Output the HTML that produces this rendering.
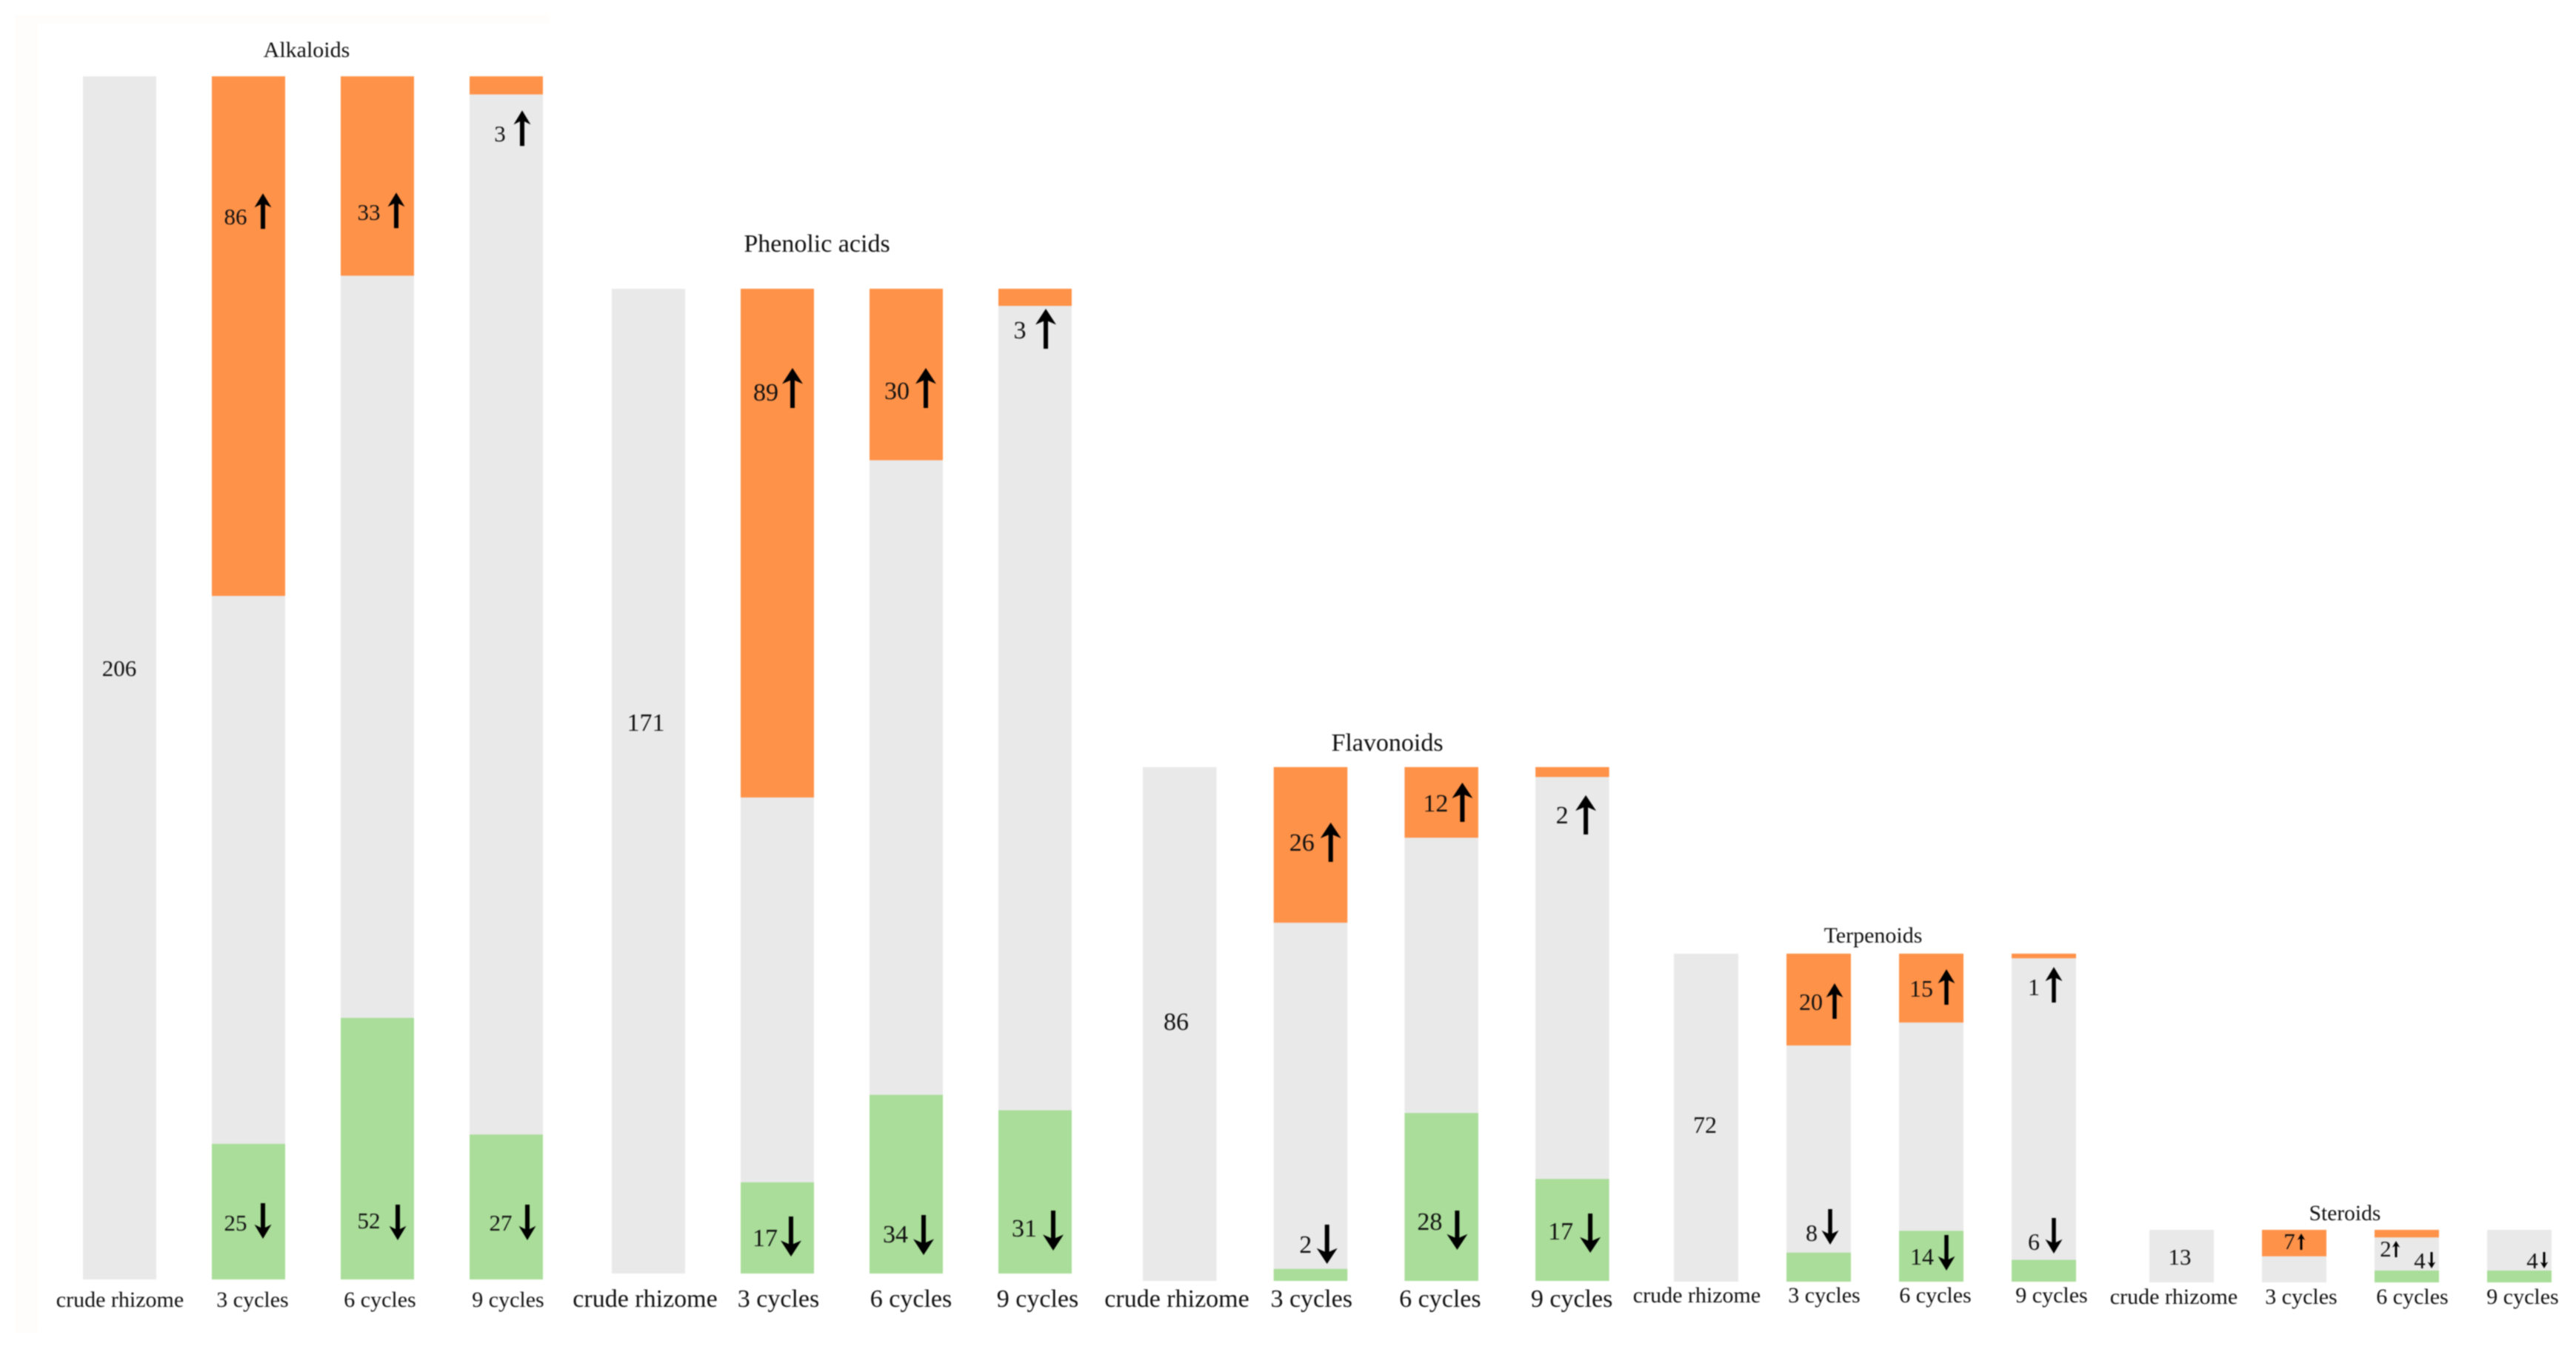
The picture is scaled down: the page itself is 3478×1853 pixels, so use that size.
<!DOCTYPE html>
<html lang="en">
<head>
<meta charset="utf-8">
<title>Metabolite changes across steaming cycles</title>
<style>
html,body{margin:0;padding:0;background:#fff;width:3478px;height:1853px;overflow:hidden}
svg{display:block;filter:blur(0.7px)}
text{font-family:"Liberation Serif",serif;fill:#111;text-anchor:middle}
</style>
</head>
<body>
<svg id="chart" xmlns="http://www.w3.org/2000/svg" width="3478" height="1853" viewBox="0 0 3478 1853">
<rect x="0" y="0" width="3478" height="1853" fill="#ffffff"/>
<path d="M20 20H742V32H51V1800H20Z" fill="#fffdfb"/>
</svg>
<script>
const panelNames = ["Alkaloids", "Phenolic acids", "Flavonoids", "Terpenoids", "Steroids"];
const categories = ["crude rhizome", "3 cycles", "6 cycles", "9 cycles"];
const crudeTotals = [206, 171, 86, 72, 13];
const upAlkaloids = [86, 33, 3];
const upPhenolic = [89, 30, 3];
const upFlavonoids = [26, 12, 2];
const upTerpenoids = [20, 15, 1];
const upSteroids = [7, 2, 0];
const downAlkaloids = [25, 52, 27];
const downPhenolic = [17, 34, 31];
const downFlavonoids = [2, 28, 17];
const downTerpenoids = [8, 14, 6];
const downSteroids = [0, 4, 4];

const upCounts = [upAlkaloids, upPhenolic, upFlavonoids, upTerpenoids, upSteroids];
const downCounts = [downAlkaloids, downPhenolic, downFlavonoids, downTerpenoids, downSteroids];

/* Layout only: band origin, per-count linear axis (unit + intercept), font sizes and annotation placement. */
const layout = [
  {left:112, step:174, width:99, base:1728, unit:7.888, upUnit:8.16, upZero:0, downUnit:6.3, downZero:25.6,
   titleX:414, titleY:77, titleSize:30, tickY:1765, tickSize:30, noteSize:31,
   arrowLen:48, headW:23, shaft:6,
   tickDx:[50,55,53,52], totalDx:49, totalY:913,
   upNotes:[[32,200,69,158],[38,194,75,157],[41,88,71,46]],
   downNotes:[[32,-66,69,-103],[38,-69,77,-101],[42,-66,78,-101]]},
  {left:826, step:174, width:99, base:1720, unit:7.778, upUnit:7.72, upZero:0, downUnit:6.95, downZero:5,
   titleX:1103, titleY:340, titleSize:34, tickY:1765, tickSize:34, noteSize:34,
   arrowLen:54, headW:28, shaft:6,
   tickDx:[45,51,56,53], totalDx:46, totalY:987,
   upNotes:[[34,151,70,107],[37,149,76,107],[29,67,64,27]],
   downNotes:[[33,-37,68,-77],[35,-42,73,-79],[35,-50,74,-85]]},
  {left:1543, step:176.7, width:99.5, base:1730, unit:8.07, upUnit:8.2, upZero:-3, downUnit:8.1, downZero:0,
   titleX:1873, titleY:1014, titleSize:34, tickY:1765, tickSize:34, noteSize:34,
   arrowLen:53, headW:28, shaft:6,
   tickDx:[46,51,48,49], totalDx:45, totalY:1391,
   upNotes:[[38,113,77,75],[42,60,78,21],[36,76,68,38]],
   downNotes:[[43,-38,72,-76],[34,-69,71,-95],[34,-56,74,-91]]},
  {left:2260, step:152, width:87, base:1731, unit:6.153, upUnit:6.2, upZero:0, downUnit:4.9, downZero:0,
   titleX:2529, titleY:1273, titleSize:30, tickY:1759, tickSize:30, noteSize:32,
   arrowLen:48, headW:23, shaft:5.5,
   tickDx:[31,51,49,54], totalDx:42, totalY:1530,
   upNotes:[[33,76,65,40],[30,58,64,21],[30,56,57,18]],
   downNotes:[[34,-55,59,-98],[31,-23,64,-63],[30,-43,57,-86]]},
  {left:2902, step:152, width:87, base:1732, unit:5.46, upUnit:5.1, upZero:0, downUnit:4.0, downZero:0,
   titleX:3166, titleY:1648, titleSize:29.5, tickY:1761, tickSize:30, noteSize:31,
   arrowLen:22, headW:10.5, shaft:3,
   tickDx:[33,53,51,48], totalDx:41, totalY:1708,
   upNotes:[[37,26,53,5],[15,36,29,15],null],
   downNotes:[null,[61,-19,77,-41],[61,-19,77,-41]]}
];

const COLORS = {neutral:"#e9e9e9", up:"#ff9249", down:"#a9dd99", arrow:"#000000"};
const svg = document.getElementById("chart");
const NS = "http://www.w3.org/2000/svg";

function make(tag, geometry, parent) {
  const el = document.createElementNS(NS, tag);
  for (const k in geometry) el.setAttribute(k, geometry[k]);
  (parent || svg).appendChild(el);
  return el;
}
/* Axis functions */
function xBand(L, i) { return L.left + i * L.step; }
function yTop(L, total) { return L.base - total * L.unit; }
function upHeight(L, v) { return Math.max(0, L.upZero + v * L.upUnit); }
function downHeight(L, v) { return Math.max(0, L.downZero + v * L.downUnit); }

function slug(s) { return s.toLowerCase().replace(/\s+/g, "-"); }

function drawArrow(parent, L, x, y0, dir, name) {
  const len = L.arrowLen, hw = L.headW / 2, sw = L.shaft / 2, hl = len * 0.4, notch = hl * 0.78;
  const s = dir === "up" ? 1 : -1;
  const tip = dir === "up" ? y0 : y0 + len;
  const pts = [
    [x, tip], [x + hw, tip + s * hl], [x + sw, tip + s * notch],
    [x + sw, tip + s * len], [x - sw, tip + s * len],
    [x - sw, tip + s * notch], [x - hw, tip + s * hl]
  ].map(p => p.join(",")).join(" ");
  const a = make("polygon", {points: pts, fill: COLORS.arrow}, parent);
  
  
}

function drawNote(parent, L, value, row, barX, anchorY, dir, name) {
  if (!row) return;
  const t = make("text", {x: barX + row[0], y: anchorY + row[1], "font-size": L.noteSize}, parent);
  t.textContent = String(value);
  
  
  drawArrow(parent, L, barX + row[2], anchorY + row[3], dir, name + '-arrow');
}

panelNames.forEach(function (panel, p) {
  const L = layout[p];
  const key = slug(panel);
  const total = crudeTotals[p];
  const top = yTop(L, total);
  const g = make("g", {});
  
  

  const title = make("text", {x: L.titleX, y: L.titleY, "font-size": L.titleSize}, g);
  title.textContent = panel;
  
  

  categories.forEach(function (cat, i) {
    const x = xBand(L, i);
    const cname = key + '-' + slug(cat);
    const bar = make("rect", {x: x, y: top, width: L.width, height: L.base - top, fill: COLORS.neutral}, g);
    
    

    if (i > 0) {
      const up = upCounts[p][i - 1];
      const down = downCounts[p][i - 1];
      if (up > 0) {
        const u = make("rect", {x: x, y: top, width: L.width, height: upHeight(L, up), fill: COLORS.up}, g);
        
        
      }
      if (down > 0) {
        const h = downHeight(L, down);
        const d = make("rect", {x: x, y: L.base - h, width: L.width, height: h, fill: COLORS.down}, g);
        
        
      }
    }

    const tick = make("text", {x: x + L.tickDx[i], y: L.tickY, "font-size": L.tickSize}, g);
    tick.textContent = cat;
    
    
  });

  const totalLabel = make("text", {x: xBand(L, 0) + L.totalDx, y: L.totalY, "font-size": L.noteSize}, g);
  totalLabel.textContent = String(total);
  
  

  for (let i = 1; i < categories.length; i++) {
    const x = xBand(L, i);
    const cname = key + '-' + slug(categories[i]);
    drawNote(g, L, upCounts[p][i - 1], L.upNotes[i - 1], x, top, "up", cname + '-up');
    drawNote(g, L, downCounts[p][i - 1], L.downNotes[i - 1], x, L.base, "down", cname + '-down');
  }
});
</script>
</body>
</html>
